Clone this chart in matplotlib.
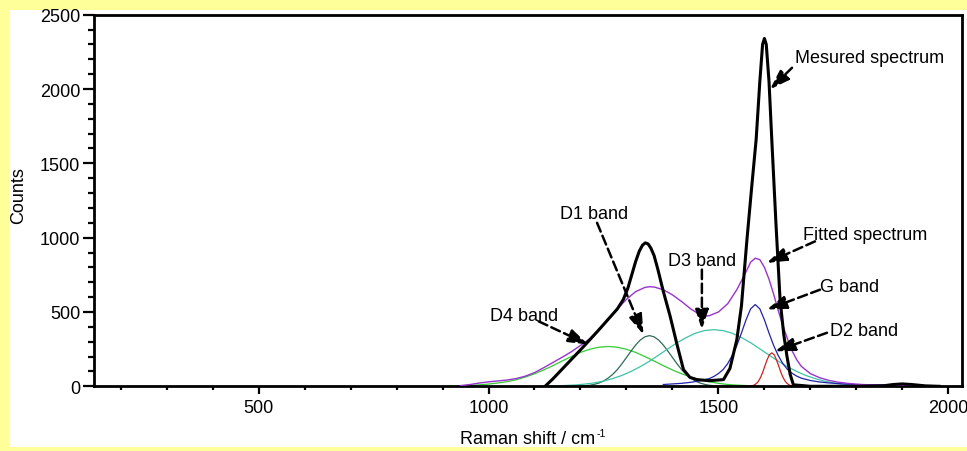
import matplotlib
matplotlib.use("Agg")
import matplotlib.pyplot as plt
from matplotlib.patches import Rectangle
from matplotlib.ticker import MultipleLocator

plt.rcParams['font.family'] = ['Liberation Sans', 'DejaVu Sans']

# ---------------- data ----------------
measured_x = [1123, 1140, 1160, 1180, 1200, 1214, 1240, 1260, 1280, 1293, 1303, 1312,
              1320, 1328, 1335, 1341, 1347, 1353, 1360, 1368, 1380, 1395, 1410, 1424,
              1438, 1453, 1480, 1511, 1525, 1540, 1550, 1562, 1572, 1582, 1590, 1596,
              1600, 1604, 1610, 1616, 1625, 1634, 1642, 1649, 1656, 1663, 1700, 1800,
              1860, 1880, 1900, 1920, 1950, 1980]
measured_y = [0, 50, 115, 180, 245, 292, 380, 450, 520, 583, 660, 755,
              840, 910, 950, 965, 958, 930, 880, 790, 640, 471, 280, 112,
              60, 45, 38, 45, 120, 314, 540, 987, 1330, 1660, 2050, 2300,
              2340, 2300, 2050, 1660, 1100, 583, 350, 202, 80, 10, 0, 0,
              4, 12, 16, 12, 3, 0]

fitted_x = [940, 960, 980, 1000, 1020, 1040, 1060, 1080, 1100, 1120, 1140, 1160, 1180,
            1200, 1220, 1240, 1260, 1280, 1300, 1320, 1340, 1350, 1360, 1380, 1400,
            1420, 1440, 1460, 1470, 1480, 1500, 1520, 1540, 1560, 1570, 1580, 1590,
            1600, 1610, 1620, 1630, 1640, 1650, 1660, 1670, 1680, 1700, 1720, 1740,
            1760, 1780, 1800, 1840, 1880, 1920]
fitted_y = [5, 12, 22, 30, 36, 42, 52, 68, 92, 125, 160, 195, 232,
            275, 320, 380, 450, 520, 585, 637, 665, 670, 668, 650, 615,
            570, 520, 482, 472, 475, 500, 555, 650, 770, 835, 862, 852,
            800, 720, 620, 510, 410, 320, 240, 180, 135, 85, 58, 40,
            28, 20, 14, 8, 4, 2]

d4_x = [940, 960, 980, 1000, 1020, 1040, 1060, 1080, 1100, 1120, 1140, 1160, 1180, 1200,
        1220, 1240, 1260, 1280, 1300, 1320, 1340, 1360, 1380, 1400, 1420, 1440, 1460,
        1480, 1500, 1520, 1540, 1560, 1580, 1600]
d4_y = [3, 6, 10, 15, 22, 31, 44, 62, 84, 110, 139, 170, 200, 228,
        249, 263, 268, 263, 249, 228, 200, 170, 139, 110, 84, 62, 44,
        30, 20, 12, 8, 5, 3, 1]

d1_x = [1190, 1200, 1210, 1220, 1230, 1240, 1250, 1260, 1270, 1280, 1290, 1300, 1310,
        1320, 1330, 1340, 1350, 1360, 1370, 1380, 1390, 1400, 1410, 1420, 1430, 1440,
        1450, 1460, 1470, 1480, 1490, 1500, 1510]
d1_y = [1, 2, 4, 7, 13, 22, 35, 55, 80, 112, 151, 194, 237,
        278, 311, 333, 341, 333, 311, 278, 237, 194, 151, 112, 80, 55,
        35, 22, 13, 7, 4, 2, 1]

d3_x = [1130, 1150, 1170, 1190, 1210, 1230, 1250, 1270, 1290, 1310, 1330, 1350, 1370,
        1390, 1410, 1430, 1450, 1470, 1490, 1510, 1530, 1550, 1570, 1590, 1610, 1630,
        1650, 1670, 1690, 1710, 1730, 1750, 1770, 1790, 1810, 1830, 1850]
d3_y = [2, 3, 6, 9, 15, 23, 35, 52, 73, 100, 132, 169, 210,
        252, 293, 328, 357, 375, 381, 375, 357, 328, 293, 252, 210, 169,
        132, 100, 73, 52, 35, 23, 15, 9, 6, 3, 2]

g_x = [1380, 1420, 1440, 1460, 1480, 1490, 1500, 1510, 1520, 1530, 1540, 1550, 1560,
       1570, 1580, 1590, 1600, 1610, 1620, 1630, 1640, 1650, 1660, 1670, 1680, 1700,
       1720, 1740, 1760, 1780, 1820, 1860, 1900]
g_y = [12, 20, 27, 37, 52, 66, 86, 112, 152, 207, 275, 358, 447,
       521, 550, 521, 447, 358, 275, 207, 153, 114, 88, 69, 55, 39,
       29, 23, 18, 15, 10, 8, 6]

d2_x = [1400, 1550, 1566, 1571, 1576, 1581, 1586, 1591, 1596, 1601, 1606, 1611, 1616,
        1621, 1626, 1631, 1636, 1641, 1646, 1651, 1656, 1661, 1666, 1700]
d2_y = [0, 0, 1, 2.5, 6, 15, 30, 56, 92, 137, 180, 213, 225,
        213, 180, 137, 92, 56, 30, 15, 6, 2.5, 1, 0]

labels = ["Mesured spectrum", "Fitted spectrum", "G band", "D2 band",
          "D3 band", "D1 band", "D4 band"]
label_pos = [(1667, 2185), (1684, 992), (1721, 639), (1742, 348),
             (1390, 819), (1156, 1133), (1004, 449)]
arrow_start = [(1660, 2143), (1710, 975), (1721, 650), (1736, 360),
               (1464, 785), (1236, 1100), (1109, 437)]
arrow_tip = [(1612, 1997), (1605, 830), (1605, 516), (1623, 235),
             (1464, 382), (1337, 348), (1217, 281)]

# ---------------- figure ----------------
W, H = 967, 452
fig = plt.figure(figsize=(W / 100, H / 100), dpi=100, facecolor='#FFFF99')
fig.patches.append(Rectangle((9 / W, 4 / H), 958 / W, 437 / H,
                             transform=fig.transFigure, facecolor='white',
                             edgecolor='none', zorder=-10))
ax = fig.add_axes([93.5 / W, 1 - 387.3 / H, 868.2 / W, 371.6 / H])
ax.set_zorder(5)
ax.set_facecolor('white')

ax.plot(d4_x, d4_y, color='#33CC33', lw=0.9, zorder=2)
ax.plot(d1_x, d1_y, color='#2E6B58', lw=0.9, zorder=2)
ax.plot(d3_x, d3_y, color='#3CC4A6', lw=0.9, zorder=2)
ax.plot(g_x, g_y, color='#2222A8', lw=0.9, zorder=2)
ax.plot(d2_x, d2_y, color='#CC2222', lw=0.9, zorder=2)
ax.plot(fitted_x, fitted_y, color='#9933CC', lw=1.0, zorder=3)
ax.plot(measured_x, measured_y, color='black', lw=2.2, zorder=4,
        solid_joinstyle='round')

ax.set_xlim(141, 2029)
ax.set_ylim(0, 2500)

ax.xaxis.set_major_locator(MultipleLocator(500))
ax.xaxis.set_minor_locator(MultipleLocator(100))
ax.yaxis.set_major_locator(MultipleLocator(500))
ax.yaxis.set_minor_locator(MultipleLocator(100))

for s in ax.spines.values():
    s.set_linewidth(2.0)

ax.tick_params(axis='y', which='major', direction='out', length=8, width=1.6,
               labelsize=13, pad=1.5)
ax.tick_params(axis='y', which='minor', direction='out', length=4.3, width=1.6)
ax.tick_params(axis='x', which='major', direction='out', length=6, width=1.6,
               labelsize=13, pad=3)
ax.tick_params(axis='x', which='minor', direction='out', length=3, width=1.6)

ax.set_xlabel("Raman shift / cm", fontsize=13)
ax.set_ylabel("Counts", fontsize=13)
ax.xaxis.set_label_coords(0.5, -0.117)
ax.yaxis.set_label_coords(-0.077, 0.515)

for txt, (tx, ty), (sx, sy), (ex, ey) in zip(labels, label_pos, arrow_start, arrow_tip):
    ax.text(tx, ty, txt, fontsize=13, ha='left', va='baseline', zorder=6)
    ax.annotate('', xy=(ex, ey), xytext=(sx, sy),
                arrowprops=dict(arrowstyle='-|>,head_length=0.6,head_width=0.2',
                                mutation_scale=20, color='black', lw=1.8,
                                linestyle=(0, (3.8, 1.8)),
                                shrinkA=0, shrinkB=0),
                zorder=6)

# superscript "-1" after the x label
fig.canvas.draw()
bb = ax.xaxis.label.get_window_extent(renderer=fig.canvas.get_renderer())
fig.text((bb.x1 + 1) / W, (bb.y1 + 2) / H, "-1", fontsize=7.5, ha='left', va='top',
         zorder=10)

fig.savefig('out.png', dpi=100, facecolor=fig.get_facecolor())
